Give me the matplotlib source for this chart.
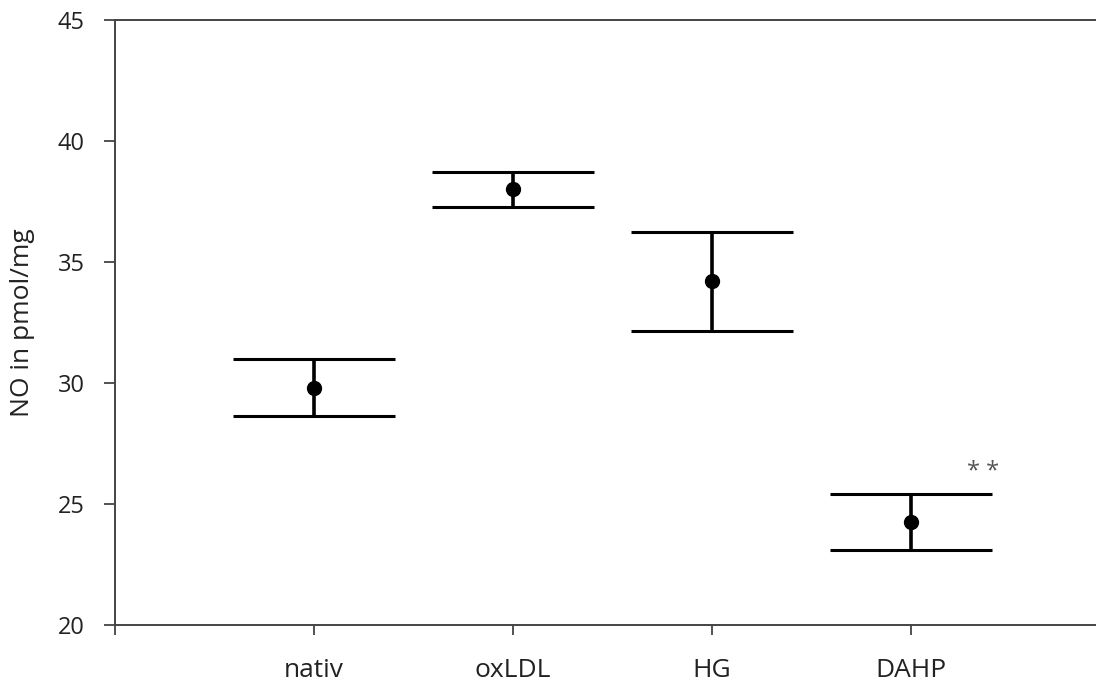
import matplotlib
matplotlib.use('Agg')
import matplotlib.pyplot as plt
import numpy as np

# data
groups = ['nativ', 'oxLDL', 'HG', 'DAHP']
means = [29.8, 38.0, 34.2, 24.25]
errors = [1.17, 0.72, 2.05, 1.17]
y_ticks = [20, 25, 30, 35, 40, 45]

plt.rcParams['font.family'] = ['Open Sans', 'DejaVu Sans']

fig = plt.figure(figsize=(10.96, 6.88), dpi=100)
ax = fig.add_axes([0.105, 0.0916, 0.895, 0.8794])

x_pos = np.arange(1, len(groups) + 1)
ax.errorbar(x_pos, means, yerr=errors, fmt='o', color='black',
            markersize=10, elinewidth=2.6, capsize=58, capthick=2.2)

# significance marker on DAHP
ax.text(x_pos[-1] + 0.36, means[-1] + errors[-1] + 0.4, '* *',
        ha='center', va='bottom', fontsize=17, color='#555555')

ax.set_xlim(0, 4.93)
ax.set_ylim(20, 45)
ax.set_xticks([0] + list(x_pos))
ax.set_xticklabels([''] + groups, fontsize=19, color='#222222')
ax.set_yticks(y_ticks)
ax.set_yticklabels([str(t) for t in y_ticks], fontsize=17, color='#222222')
ax.tick_params(axis='y', direction='out', length=8, width=1.3, pad=14, color='#444444')
ax.tick_params(axis='x', direction='out', length=7, width=1.3, pad=17, color='#444444')
ax.set_ylabel('NO in pmol/mg', fontsize=19, color='#222222', labelpad=16)

for side in ['left', 'bottom', 'top']:
    ax.spines[side].set_color('#444444')
    ax.spines[side].set_linewidth(1.4)
ax.spines['right'].set_visible(False)

fig.savefig('out.png', dpi=100, facecolor='white')
